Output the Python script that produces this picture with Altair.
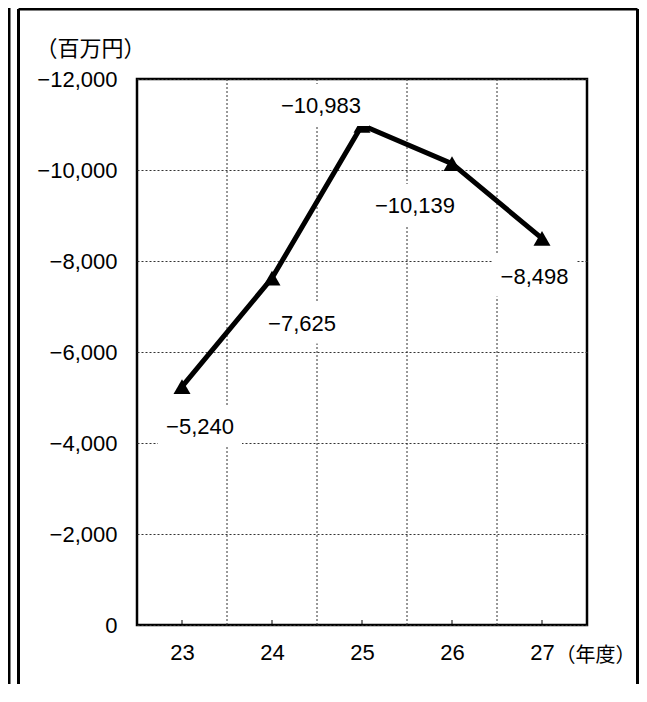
import altair as alt
import pandas as pd

# ---- data ----
years = [23, 24, 25, 26, 27]
values = [-5240, -7625, -10983, -10139, -8498]
y_ticks = [-12000, -10000, -8000, -6000, -4000, -2000, 0]
unit_label = "（百万円）"
x_unit_label = "（年度）"

# ---- layout / style (pixel offsets of each value label from its point) ----
label_dx = [18, 30, -41, -37, -7.5]
label_dy = [40.6, 45.6, -19.1, 42.5, 38.4]

W, H = 450, 546
FONT = "Liberation Sans, Arial, Noto Sans CJK JP"
JFONT = "Noto Sans CJK JP"
FS = 22

df = pd.DataFrame({"year": years, "value": values})
grid_df = pd.DataFrame({"year": [y + 0.5 for y in years[:-1]]})
one = pd.DataFrame({"k": [0]})

xscale = alt.Scale(domain=[years[0] - 0.5, years[-1] + 0.5], nice=False, zero=False)
xaxis = alt.Axis(values=years, format="d", title=None, grid=False, ticks=False, tickSize=0,
                 domain=False, labelPadding=17, labelFontSize=FS, labelFont=FONT,
                 labelColor="black", labelFlush=False, labelOverlap=False)
yscale = alt.Scale(domain=[y_ticks[0], y_ticks[-1]], reverse=True, nice=False, zero=False)
yaxis = alt.Axis(values=y_ticks, format=",d", title=None, ticks=False, tickSize=0, domain=False,
                 labelPadding=20, grid=True, gridDash=[2, 2], gridColor="#333", gridWidth=1,
                 labelFontSize=FS, labelFont=FONT, labelColor="black", labelFlush=False,
                 labelOverlap=False)

X = alt.X("year:Q", scale=xscale, axis=xaxis)
Y = alt.Y("value:Q", scale=yscale, axis=yaxis)

base = alt.Chart(df).encode(x=X, y=Y)

vgrid = alt.Chart(grid_df).mark_rule(color="#333", strokeWidth=1, strokeDash=[2, 2]).encode(
    x=X, y=alt.value(0), y2=alt.value(H))
ticks = alt.Chart(df).mark_rule(color="black", strokeWidth=1).encode(
    x=X, y=alt.value(H), y2=alt.value(H - 5))

line = base.mark_line(color="black", strokeWidth=5)
pts = base.mark_point(shape="triangle-up", filled=True, size=289, color="black", opacity=1)

layers = [vgrid, ticks, line, pts]

for i, yr in enumerate(years):
    txt = format(abs(values[i]), ",")
    w = 84 if len(txt) <= 5 else 96
    hh = 21.0 / (w / 2.0)
    path = f"M-1,-{hh}L1,-{hh}L1,{hh}L-1,{hh}Z"
    box = alt.Chart(df).transform_filter(alt.datum.year == yr).mark_point(
        shape=path, filled=True, color="white", opacity=1, size=w * w, strokeWidth=0,
        xOffset=label_dx[i], yOffset=label_dy[i] - 1.2).encode(x=X, y=Y)
    lab = alt.Chart(df).transform_filter(alt.datum.year == yr).mark_text(
        font=FONT, fontSize=FS, color="black", align="center", baseline="middle",
        dx=label_dx[i], dy=label_dy[i]).encode(x=X, y=Y, text=alt.Text("value:Q", format=",d"))
    layers += [box, lab]

# frame lines around the panel
RIGHT = 500.5
frame_v1 = alt.Chart(one).mark_rule(color="black", strokeWidth=3).encode(
    x=alt.value(-128), y=alt.value(-90), y2=alt.value(720))
frame_v2 = alt.Chart(one).mark_rule(color="black", strokeWidth=3).encode(
    x=alt.value(-118.5), y=alt.value(-70), y2=alt.value(720))
frame_v3 = alt.Chart(one).mark_rule(color="black", strokeWidth=3).encode(
    x=alt.value(RIGHT), y=alt.value(-70), y2=alt.value(720))
frame_h = alt.Chart(one).mark_rule(color="black", strokeWidth=3).encode(
    x=alt.value(-118.5), x2=alt.value(RIGHT), y=alt.value(-70))

unit_txt = alt.Chart(one).mark_text(font=JFONT, fontSize=FS, color="black", align="center",
                                    baseline="middle").encode(
    x=alt.value(-46.5), y=alt.value(-31.5 + 1.7), text=alt.value(unit_label))
xunit_txt = alt.Chart(one).mark_text(font=JFONT, fontSize=20, color="black", align="right",
                                     baseline="middle").encode(
    x=alt.value(498.5), y=alt.value(575 + 1.7), text=alt.value(x_unit_label))

layers += [frame_v1, frame_v2, frame_v3, frame_h, unit_txt, xunit_txt]

chart = alt.layer(*layers).properties(
    width=W, height=H,
    autosize=alt.AutoSizeParams(type="none"),
    padding={"left": 129, "top": 71, "right": 52, "bottom": 59},
    background="white",
).configure_view(stroke="black", strokeWidth=2.5)

chart.save("out.html", embed_options={"renderer": "svg", "actions": False})
